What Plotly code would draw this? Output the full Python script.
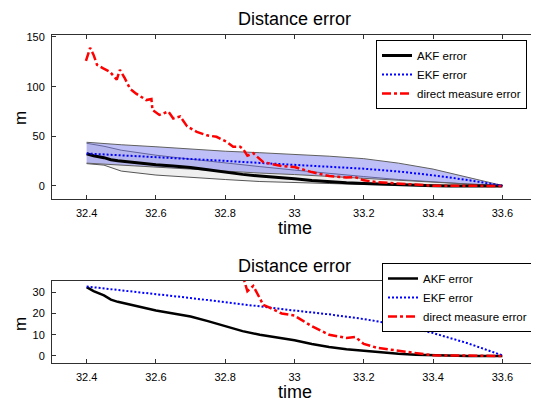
import plotly.graph_objects as go

# ---------------- data ----------------
band_t = [32.4, 32.45, 32.5, 32.6, 32.7, 32.8, 32.9, 33.0, 33.1, 33.2, 33.3, 33.4, 33.5, 33.6]
akf_upper = [43.0, 40.0, 36.0, 31.0, 27.0, 23.0, 19.5, 16.0, 12.5, 9.5, 6.5, 4.0, 2.0, 0.5]
akf_lower = [22.5, 21.0, 15.0, 11.0, 8.5, 6.5, 4.5, 3.5, 2.5, 1.5, 1.0, 0.5, 0.2, 0.0]
ekf_upper = [44.0, 42.5, 41.5, 39.5, 37.0, 35.0, 33.5, 32.0, 30.0, 27.5, 23.0, 17.0, 9.0, 0.5]
ekf_lower = [23.0, 22.0, 21.0, 19.0, 16.5, 15.0, 13.0, 11.5, 9.5, 7.5, 5.5, 4.0, 2.0, 0.5]

akf_t = [32.40, 32.42, 32.45, 32.47, 32.49, 32.52, 32.56, 32.60, 32.65, 32.70, 32.75, 32.80,
         32.85, 32.90, 32.95, 33.00, 33.05, 33.10, 33.15, 33.20, 33.25, 33.30, 33.35, 33.40,
         33.45, 33.50, 33.55, 33.60]
akf_err = [32.4, 30.5, 28.5, 26.5, 25.5, 24.3, 22.8, 21.4, 20.0, 18.6, 16.4, 14.0,
           11.7, 10.0, 8.8, 7.4, 5.6, 4.2, 3.2, 2.4, 1.8, 1.1, 0.6, 0.3,
           0.1, 0.0, 0.0, 0.0]

ekf_t = [32.4, 32.5, 32.6, 32.7, 32.8, 32.9, 33.0, 33.1, 33.2, 33.3, 33.4, 33.5, 33.6]
ekf_err = [32.7, 31.0, 29.2, 27.3, 25.3, 23.2, 21.4, 19.6, 17.4, 14.6, 10.8, 6.0, 0.3]

dm_t = [32.398, 32.41, 32.42, 32.43, 32.448, 32.467, 32.487, 32.496, 32.51, 32.525, 32.543,
        32.572, 32.587, 32.59, 32.61, 32.636, 32.65, 32.67, 32.69, 32.718, 32.747, 32.775,
        32.804, 32.823, 32.843, 32.852, 32.864, 32.881, 32.91, 32.925, 32.963, 33.0, 33.02,
        33.05, 33.1, 33.15, 33.175, 33.2, 33.24, 33.3, 33.35, 33.4, 33.5, 33.6]
dm_err = [126, 139, 132, 122, 118.5, 115, 107, 117, 108.5, 98, 93,
          86.5, 87.5, 76.5, 71.5, 75, 68, 70, 60, 54.5, 51, 49.5,
          44.5, 39.5, 39.5, 37, 30.5, 33, 24, 23, 20, 19, 17,
          14, 10, 8.5, 9, 5.7, 3.8, 2.4, 1.2, 0.3, 0.2, 0.0]

x_ticks = [32.4, 32.6, 32.8, 33.0, 33.2, 33.4, 33.6]
x_tick_text = ["32.4", "32.6", "32.8", "33", "33.2", "33.4", "33.6"]
y_ticks_top = [0, 50, 100, 150]
y_ticks_bot = [0, 10, 20, 30]

FONT = "Liberation Sans, Arial, Helvetica, sans-serif"

# page body has an 8px margin: lay the figure out in page pixels minus that offset
OFF = 8
W, H = 539 - OFF, 402 - OFF

def px(x):
    return (x - OFF) / W

def py(y):
    return 1 - (y - OFF) / H

fig = go.Figure()

def band(xs, up, lo, fill, edge, xa, ya):
    return go.Scatter(x=list(xs) + list(xs)[::-1], y=list(up) + list(lo)[::-1],
                      fill="toself", fillcolor=fill, mode="lines",
                      line=dict(color=edge, width=1), showlegend=False,
                      hoverinfo="skip", xaxis=xa, yaxis=ya)

# top panel
fig.add_trace(band(band_t, akf_upper, akf_lower, "#efefef", "#555555", "x", "y"))
fig.add_trace(band(band_t, ekf_upper, ekf_lower, "rgba(120,120,238,0.47)", "#606060", "x", "y"))
fig.add_trace(go.Scatter(x=akf_t, y=akf_err, mode="lines", name="AKF error",
                         line=dict(color="black", width=3), xaxis="x", yaxis="y", legend="legend"))
fig.add_trace(go.Scatter(x=ekf_t, y=ekf_err, mode="lines", name="EKF error",
                         line=dict(color="#0000ff", width=2, dash="2px,2px"), xaxis="x", yaxis="y", legend="legend"))
fig.add_trace(go.Scatter(x=dm_t, y=dm_err, mode="lines", name="direct measure error",
                         line=dict(color="#ff0000", width=2.5, dash="dashdot"), xaxis="x", yaxis="y", legend="legend"))

# bottom panel
fig.add_trace(go.Scatter(x=akf_t, y=akf_err, mode="lines", name="AKF error",
                         line=dict(color="black", width=2.5), xaxis="x2", yaxis="y2", legend="legend2"))
fig.add_trace(go.Scatter(x=ekf_t, y=ekf_err, mode="lines", name="EKF error",
                         line=dict(color="#0000ff", width=2, dash="2px,2px"), xaxis="x2", yaxis="y2", legend="legend2"))
fig.add_trace(go.Scatter(x=dm_t, y=dm_err, mode="lines", name="direct measure error",
                         line=dict(color="#ff0000", width=2.5, dash="dashdot"), xaxis="x2", yaxis="y2", legend="legend2"))

axis_common = dict(showgrid=False, zeroline=False, showline=True, linecolor="#303030", linewidth=1,
                   ticks="inside", ticklen=4, tickcolor="#303030",
                   tickfont=dict(family=FONT, size=11, color="black"), ticklabelstandoff=4)

def label(text, x, y, angle=0, size=18):
    return dict(text=text, x=px(x), y=py(y), xref="paper", yref="paper", textangle=angle,
                xanchor="center", yanchor="middle", showarrow=False,
                font=dict(family=FONT, size=size, color="black"))

fig.update_layout(
    width=W, height=H, margin=dict(l=0, r=0, t=0, b=0, autoexpand=False),
    paper_bgcolor="white", plot_bgcolor="white",
    font=dict(family=FONT, color="black"),
    xaxis=dict(domain=[px(52), px(537)], range=[32.3, 33.7], tickvals=x_ticks, ticktext=x_tick_text,
               anchor="y", mirror="ticks", **axis_common),
    yaxis=dict(domain=[py(199), py(35)], range=[-13.1, 152], tickvals=y_ticks_top,
               anchor="x", mirror="ticks", **axis_common),
    xaxis2=dict(domain=[px(52), px(537)], range=[32.3, 33.7], tickvals=x_ticks, ticktext=x_tick_text,
                anchor="y2", mirror=True, **axis_common),
    yaxis2=dict(domain=[py(363), py(281)], range=[-3.3, 35.3], tickvals=y_ticks_bot,
                anchor="x2", mirror=True, **axis_common),
    legend=dict(x=px(376), y=py(40), xanchor="left", yanchor="top",
                bgcolor="white", bordercolor="black", borderwidth=1,
                font=dict(family=FONT, size=11.5, color="black"), tracegroupgap=0),
    legend2=dict(x=px(382), y=py(263), xanchor="left", yanchor="top",
                 bgcolor="white", bordercolor="black", borderwidth=1,
                 font=dict(family=FONT, size=11.5, color="black"), tracegroupgap=0),
    annotations=[
        label("Distance error", 294, 19),
        label("Distance error", 294, 266),
        label("time", 295, 228),
        label("time", 295, 392),
        label("m", 20, 118, -90, 17),
        label("m", 20, 324, -90, 17),
    ],
)

fig.write_html("out.html")
